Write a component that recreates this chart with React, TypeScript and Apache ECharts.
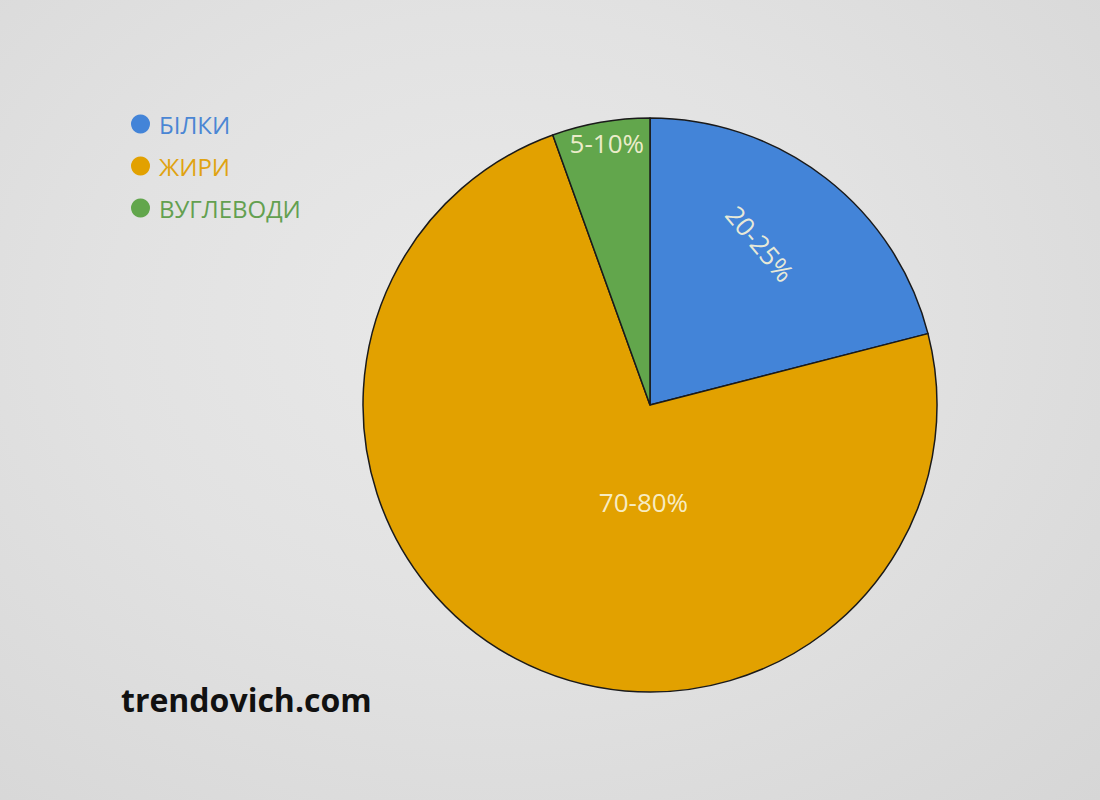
import React, { useEffect, useRef } from "react";
import * as echarts from "echarts";

const categories = ["БІЛКИ", "ЖИРИ", "ВУГЛЕВОДИ"];
const values = [21, 73.5, 5.5];
const sliceLabels = ["20-25%", "70-80%", "5-10%"];
const colors = ["#4384d8", "#e2a100", "#62a64c"];
const legendTextColors = ["#4a86d4", "#e0a312", "#63a050"];
const watermark = "trendovich.com";

export default function App() {
  const ref = useRef<HTMLDivElement>(null);
  useEffect(() => {
    if (!ref.current) return;
    const chart = echarts.init(ref.current, undefined, { renderer: "svg" });
    const offsets = [
      { dx: -22, dy: -45, rotate: -50 },
      { dx: 62, dy: -32, rotate: 0 },
      { dx: -18, dy: -118, rotate: 0 },
    ];
    chart.setOption({
      animation: false,
      backgroundColor: "transparent",
      legend: {
        orient: "vertical",
        left: 131,
        top: 110,
        padding: 0,
        itemWidth: 19,
        itemHeight: 19,
        itemGap: 14,
        icon: "circle",
        selectedMode: false,
        itemStyle: { borderWidth: 0 },
        data: categories.map((c, i) => ({
          name: c,
          textStyle: { color: legendTextColors[i] },
        })),
        textStyle: {
          fontFamily: "Open Sans",
          fontSize: 24,
          lineHeight: 28,
          padding: [0, 0, 0, 4],
        },
      },
      graphic: [
        {
          type: "text",
          left: 121,
          top: 683,
          style: {
            text: watermark,
            fill: "#111111",
            font: "bold 32px 'Open Sans'",
          },
        },
      ],
      series: [
        {
          type: "pie",
          center: [650, 405],
          radius: 287,
          startAngle: 90,
          clockwise: true,
          color: colors,
          itemStyle: { borderColor: "#1a1a1a", borderWidth: 1.5 },
          label: {
            show: true,
            position: "inside",
            color: "rgba(250,244,215,0.92)",
            fontFamily: "Open Sans",
            fontSize: 26,
            formatter: (p: any) => sliceLabels[p.dataIndex],
          },
          labelLine: { show: false },
          emphasis: { disabled: true },
          labelLayout: (p: any) => offsets[p.dataIndex],
          data: categories.map((c, i) => ({ name: c, value: values[i] })),
        },
      ],
    });
    return () => chart.dispose();
  }, []);
  return (
    <div
      style={{
        position: "absolute",
        left: 0,
        top: 0,
        width: 1100,
        height: 800,
        background:
          "radial-gradient(ellipse at 45% 40%, #e9e9e9 0%, #e2e2e2 45%, #d6d6d6 100%)",
      }}
    >
      <div ref={ref} style={{ width: 1100, height: 800 }} />
    </div>
  );
}
